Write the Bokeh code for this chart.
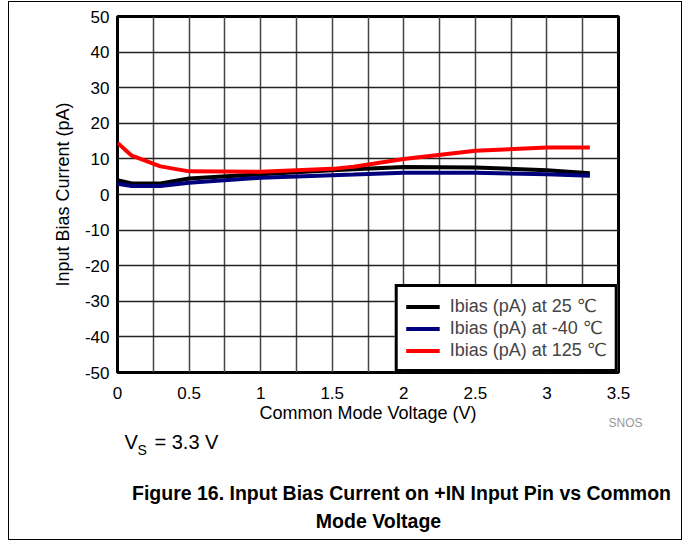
from bokeh.plotting import figure
from bokeh.models import FixedTicker, NumeralTickFormatter, Label, Range1d, Legend, LegendItem
from bokeh.embed import file_html
from bokeh.resources import INLINE

# Data
vcm = [0.0, 0.1, 0.3, 0.5, 1.0, 1.5, 1.65, 2.0, 2.5, 3.0, 3.3]
ibias_25 = [4.0, 3.1, 3.1, 4.5, 5.7, 6.8, 7.1, 7.7, 7.6, 6.8, 6.0]
ibias_m40 = [3.0, 2.4, 2.4, 3.3, 4.7, 5.4, 5.6, 6.1, 6.1, 5.7, 5.3]
ibias_125 = [14.5, 10.9, 7.9, 6.5, 6.4, 7.2, 7.8, 10.0, 12.3, 13.2, 13.2]

series_labels = ["Ibias (pA) at 25 \u2103", "Ibias (pA) at -40 \u2103", "Ibias (pA) at 125 \u2103"]
series_colors = ["#000000", "#00007f", "#ff0000"]

x_ticks = [0, 0.5, 1, 1.5, 2, 2.5, 3, 3.5]
y_ticks = [-50, -40, -30, -20, -10, 0, 10, 20, 30, 40, 50]
x_grid = [0.25, 0.5, 0.75, 1, 1.25, 1.5, 1.75, 2, 2.25, 2.5, 2.75, 3, 3.25]
y_grid = [-40, -30, -20, -10, 0, 10, 20, 30, 40]

FONT = "Liberation Sans"
LEGEND_FONT = "Liberation Sans, DejaVu Sans"

p = figure(width=674, height=539, output_backend="svg", toolbar_location=None,
           x_range=Range1d(0, 3.5), y_range=Range1d(-50, 50),
           min_border_left=108, min_border_right=65, min_border_top=14, min_border_bottom=169)
p.styles = {"border": "1px solid black", "margin-left": "8px", "margin-top": "1px"}

p.outline_line_color = "black"
p.outline_line_width = 3

for ax in (p.xaxis[0], p.yaxis[0]):
    ax.axis_line_color = None
    ax.major_tick_line_color = None
    ax.minor_tick_line_color = None
    ax.major_tick_out = 0
    ax.major_tick_in = 0
    ax.minor_tick_out = 0
    ax.minor_tick_in = 0
    ax.major_label_text_font = FONT
    ax.major_label_text_font_size = "17px"
    ax.major_label_text_color = "black"
    ax.axis_label_text_font = FONT
    ax.axis_label_text_font_size = "18px"
    ax.axis_label_text_font_style = "normal"
    ax.axis_label_text_color = "black"

p.xaxis.ticker = FixedTicker(ticks=x_ticks)
p.xaxis.formatter = NumeralTickFormatter(format="0.[0]")
p.xaxis.major_label_standoff = 14
p.xaxis.axis_label = "Common Mode Voltage (V)"
p.xaxis.axis_label_standoff = 1

p.yaxis.ticker = FixedTicker(ticks=y_ticks)
p.yaxis.formatter = NumeralTickFormatter(format="0")
p.yaxis.major_label_standoff = 8
p.yaxis.axis_label = "Input Bias Current (pA)"
p.yaxis.axis_label_standoff = 9

p.xgrid.ticker = FixedTicker(ticks=x_grid)
p.ygrid.ticker = FixedTicker(ticks=y_grid)
p.xgrid.grid_line_color = "#444444"
p.ygrid.grid_line_color = "#222222"
p.xgrid.grid_line_width = 1.5
p.ygrid.grid_line_width = 1.5

r1 = p.line(vcm, ibias_25, line_color=series_colors[0], line_width=4)
r2 = p.line(vcm, ibias_m40, line_color=series_colors[1], line_width=4)
r3 = p.line(vcm, ibias_125, line_color=series_colors[2], line_width=4)

legend = Legend(items=[LegendItem(label=series_labels[0], renderers=[r1]),
                       LegendItem(label=series_labels[1], renderers=[r2]),
                       LegendItem(label=series_labels[2], renderers=[r3])],
                location="bottom_right")
legend.margin = 0
legend.padding = 8
legend.spacing = 0
legend.label_height = 21
legend.glyph_height = 21
legend.glyph_width = 34
legend.label_standoff = 10
legend.label_text_font = LEGEND_FONT
legend.label_text_font_size = "18px"
legend.border_line_color = "black"
legend.border_line_alpha = 1.0
legend.border_line_width = 3
legend.background_fill_color = "white"
legend.background_fill_alpha = 1
p.add_layout(legend, "center")

# Caption texts, placed in the bottom side panel (screen units:
# x from the frame's left edge, y up from the bottom of each text's own slot).
FRAME_LEFT = 117


def add_text(text, page_x, y, size, align="left", baseline="alphabetic", style="normal", color="black"):
    p.add_layout(Label(x=page_x - FRAME_LEFT, y=y, x_units="screen", y_units="screen",
                       text=text, text_font=FONT, text_font_size=size, text_font_style=style,
                       text_color=color, text_align=align, text_baseline=baseline), "below")


add_text("SNOS", 625, 17.0, "12px", align="center", baseline="middle", color="#999999")
add_text("V\u00a0\u00a0\u00a0= 3.3 V", 124, 19.2, "20px")
add_text("S", 137, 27.8, "14px")
add_text("Figure 16. Input Bias Current on +IN Input Pin vs Common", 401, 6.5, "19.5px",
         align="center", style="bold")
add_text("Mode Voltage", 378, 0.7, "19.5px", align="center", style="bold")

open("out.html", "w").write(file_html(p, INLINE))
